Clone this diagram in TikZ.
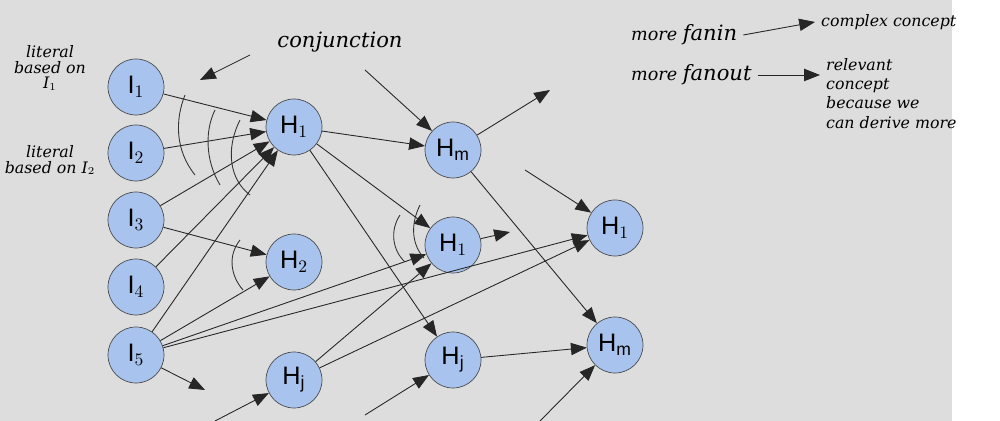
\documentclass[tikz,border=0pt]{standalone}
\usepackage{fontspec}
\setmainfont{Liberation Sans}
\newfontfamily\hand{DejaVu Serif}
\usetikzlibrary{arrows.meta}
\definecolor{bg}{HTML}{DDDDDD}
\definecolor{nodeblue}{HTML}{A8C4EE}
\begin{document}
\begin{tikzpicture}[x=0.02cm,y=-0.02cm,
  nd/.style={circle,draw=black!70,fill=nodeblue,minimum size=1.12cm,inner sep=0pt,font=\Large},
  ar/.style={-{Triangle[length=9pt,width=7pt]},black!85,line width=0.5pt},
  hw/.style={font=\hand\itshape\small,align=center},
  arc/.style={black!80,line width=0.5pt}]
\useasboundingbox (0,0) rectangle (1000,421);
\fill[white] (0,0) rectangle (1000,421);
\fill[bg] (0,0) rectangle (952,421);
\node[nd] (i1) at (136,87) {I$_1$};
\node[nd] (i2) at (136,153) {I$_2$};
\node[nd] (i3) at (136,220) {I$_3$};
\node[nd] (i4) at (136,287) {I$_4$};
\node[nd] (i5) at (136,355) {I$_5$};
\node[nd] (h1) at (294,127) {H$_1$};
\node[nd] (h2) at (294,262) {H$_2$};
\node[nd] (hj) at (294,380) {H$_\mathrm{j}$};
\node[nd] (hm2) at (453,150) {H$_\mathrm{m}$};
\node[nd] (h12) at (453,245) {H$_1$};
\node[nd] (hj2) at (453,360) {H$_\mathrm{j}$};
\node[nd] (h13) at (615,228) {H$_1$};
\node[nd] (hm3) at (615,345) {H$_\mathrm{m}$};
\foreach \a in {i1,i2,i3,i4,i5} \draw[ar] (\a) -- (h1);
\draw[ar] (i3) -- (h2);
\draw[ar] (i5) -- (h2);
\draw[ar] (i5) -- (h12);
\draw[ar] (i5) -- (h13);
\coordinate (e1) at (205,390);
\draw[ar] (i5) -- (e1);
\draw[ar] (h1) -- (hm2);
\draw[ar] (h1) -- (h12);
\draw[ar] (h1) -- (hj2);
\draw[ar] (hj) -- (h12);
\draw[ar] (hj) -- (h13);
\coordinate (e2) at (550,90);
\draw[ar] (hm2) -- (e2);
\draw[ar] (hm2) -- (hm3);
\coordinate (e3) at (510,232);
\draw[ar] (h12) -- (e3);
\draw[ar] (hj2) -- (hm3);
\coordinate (s1) at (365,70);
\draw[ar] (s1) -- (hm2);
\coordinate (s2) at (215,421);
\draw[ar] (s2) -- (hj);
\coordinate (s3) at (365,415);
\draw[ar] (s3) -- (hj2);
\coordinate (s4) at (525,170);
\draw[ar] (s4) -- (h13);
\coordinate (s5) at (540,421);
\draw[ar] (s5) -- (hm3);
% hand arcs
\draw[arc] (185,95) .. controls (175,120) and (175,150) .. (195,175);
\draw[arc] (215,110) .. controls (205,130) and (205,160) .. (220,185);
\draw[arc] (240,120) .. controls (225,150) and (230,180) .. (250,195);
\draw[arc] (240,240) .. controls (228,255) and (230,275) .. (243,290);
\draw[arc] (400,215) .. controls (390,230) and (392,250) .. (405,262);
\draw[arc] (420,205) .. controls (410,225) and (412,245) .. (424,258);
% handwritten text
\node[hw] (lt1) at (50,68) {literal\\[-2pt]based on\\[-2pt]I$_1$};
\node[hw] (lt2) at (50,160) {literal\\[-2pt]based on I$_2$};
\node[hw,font=\hand\itshape\large] (cj) at (340,42) {conjunction};
\coordinate (cjend) at (200,80);
\draw[ar] (250,55) -- (cjend);
\node[hw,anchor=west,font=\hand\itshape] (fi) at (625,35) {more \large fanin};
\node[hw,anchor=west] (cc) at (815,22) {complex concept};
\draw[ar] (fi.east) -- (cc.west);
\node[hw,anchor=west,font=\hand\itshape] (fo) at (625,75) {more \large fanout};
\node[hw,anchor=north west,align=left] (rc) at (820,52) {relevant\\concept\\because we\\can derive more};
\draw[ar] (fo.east) -- (rc.west|-fo.east);
\end{tikzpicture}
\end{document}
